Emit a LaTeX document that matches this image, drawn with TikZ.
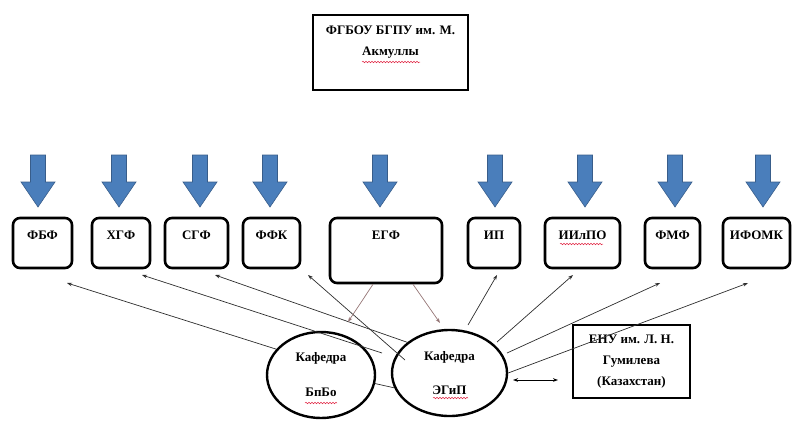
\documentclass[tikz,border=0pt]{standalone}
\usepackage{fontspec}
\setmainfont{Liberation Serif}
\usetikzlibrary{arrows.meta,shapes.geometric,decorations.pathmorphing}
\definecolor{arrowblue}{RGB}{74,126,187}
\definecolor{arrowedge}{RGB}{56,93,138}
\definecolor{linkgray}{RGB}{45,45,45}
\definecolor{softlink}{RGB}{150,118,118}
\definecolor{squiggle}{RGB}{225,40,70}
\tikzset{
  pics/downarrow/.style={code={
    \draw[fill=arrowblue, draw=arrowedge, line width=0.6pt]
      (-7.5,0) -- (7.5,0) -- (7.5,27) -- (17,27) -- (0,52) -- (-17,27) -- (-7.5,27) -- cycle;}},
  txt/.style={font=\bfseries\fontsize{13}{15}\selectfont},
  facbox/.style={draw, line width=2.6pt, rounded corners=7pt, minimum height=50pt, inner sep=0pt},
  ftext/.style={label={[txt, anchor=center, yshift=-19pt]north:#1}},
  kaf/.style={draw, ellipse, line width=2.4pt, inner sep=0pt, align=center, txt},
  plainbox/.style={draw, line width=2.6pt, inner sep=0pt, align=center},
  link/.style={draw=linkgray, line width=0.7pt, -{Stealth[length=5pt,width=3.6pt]}},
  softarrow/.style={draw=softlink, line width=0.7pt, -{Stealth[length=5pt,width=3.6pt]}},
  both/.style={draw=black, line width=0.8pt, {Stealth[length=5pt,width=3.6pt]}-{Stealth[length=5pt,width=3.6pt]}},
  wavy/.style={draw=squiggle, line width=0.5pt, decorate, decoration={snake, amplitude=0.8pt, segment length=3pt}}
}
\begin{document}
\begin{tikzpicture}[x=1pt,y=-1pt]
\path[use as bounding box] (0,0) rectangle (800,421);

% top box
\node[plainbox, minimum width=155pt, minimum height=75pt,
  label={[font=\bfseries\fontsize{13}{21}\selectfont, align=center, anchor=center, yshift=10pt]center:ФГБОУ БГПУ им. М.\\Акмуллы}]
  (bgpu) at (390.5,52.5) {};

% blue arrows
\foreach \x in {38,119,200,270,380,495,585,675,763} \pic at (\x,155) {downarrow};

% faculty boxes
\node[facbox, minimum width=59pt, ftext=ФБФ] (fbf) at (42.5,243) {};
\node[facbox, minimum width=58pt, ftext=ХГФ] (hgf) at (121,243) {};
\node[facbox, minimum width=63pt, ftext=СГФ] (sgf) at (196.5,243) {};
\node[facbox, minimum width=57pt, ftext=ФФК] (ffk) at (271.5,243) {};
\node[facbox, minimum width=112pt, minimum height=65pt, ftext=ЕГФ] (egf) at (386,250.5) {};
\node[facbox, minimum width=52pt, ftext=ИП] (ip) at (494,243) {};
\node[facbox, minimum width=75pt, ftext=ИИлПО] (iilpo) at (582.5,243) {};
\node[facbox, minimum width=55pt, ftext=ФМФ] (fmf) at (672.5,243) {};
\node[facbox, minimum width=67pt, ftext=ИФОМК] (ifomk) at (756.5,243) {};

% departments
\node[kaf, minimum width=108pt, minimum height=86pt] (bpbo) at (321,375) {Кафедра\\[20pt]БпБо};
\node[kaf, minimum width=115pt, minimum height=86pt] (egip) at (449.5,373) {Кафедра\\[19pt]ЭГиП};

% partner
\node[plainbox, minimum width=117pt, minimum height=73pt, font=\bfseries\fontsize{13}{21}\selectfont]
  (enu) at (631.5,361.5) {ЕНУ им. Л. Н.\\Гумилева\\(Казахстан)};

% connector end points
\coordinate (t1) at (67,283);
\coordinate (t2) at (142,275);
\coordinate (s2) at (382,353);
\coordinate (t3) at (215,275);
\coordinate (t4) at (308,275);
\coordinate (s4) at (405,360);
\coordinate (e1) at (348,322);
\coordinate (e2) at (440,323);
\coordinate (s5) at (468,325);
\coordinate (t5) at (497,275);
\coordinate (s6) at (497,342);
\coordinate (t6) at (573,275);
\coordinate (s7) at (507,353);
\coordinate (t7) at (660,283);
\coordinate (t8) at (748,283);
\coordinate (d1) at (513,380);
\coordinate (d2) at (558,380);

% connectors
\draw[link] (bpbo.150) -- (t1);
\draw[link] (s2) -- (t2);
\draw[link] (egip.144) -- (t3);
\draw[link] (s4) -- (t4);
\draw[softarrow] ([xshift=-13pt]egf.south) -- (e1);
\draw[softarrow] ([xshift=27pt]egf.south) -- (e2);
\draw[link] (s5) -- (t5);
\draw[link] (s6) -- (t6);
\draw[link] (s7) -- (t7);
\draw[link] (egip.east) -- (t8);
\draw[linkgray, line width=0.7pt] (bpbo.-9) -- (egip.195);
\draw[both] (d1) -- (d2);

% spell-check squiggles
\draw[wavy] (362,62) -- (420,62);
\draw[wavy] (560,244) -- (603,244);
\draw[wavy] (305,403) -- (337,403);
\draw[wavy] (433,398) -- (468,398);
\end{tikzpicture}
\end{document}
